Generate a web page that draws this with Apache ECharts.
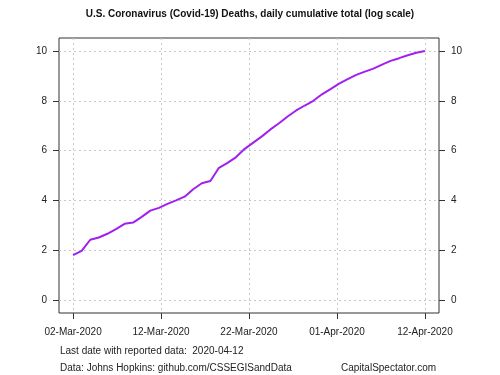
<!DOCTYPE html>
<html>
<head>
<meta charset="utf-8">
<script src="https://cdn.jsdelivr.net/npm/echarts@6/dist/echarts.min.js"></script>
<style>
  html, body { margin: 0; padding: 0; background: #fff; }
  #chart { width: 500px; height: 375px; }
</style>
</head>
<body>
<div id="chart"></div>
<script>
// daily dates, 02-Mar-2020 .. 12-Apr-2020 (x = day index)
const dates = [
  '2020-03-02', '2020-03-03', '2020-03-04', '2020-03-05', '2020-03-06', '2020-03-07',
  '2020-03-08', '2020-03-09', '2020-03-10', '2020-03-11', '2020-03-12', '2020-03-13',
  '2020-03-14', '2020-03-15', '2020-03-16', '2020-03-17', '2020-03-18', '2020-03-19',
  '2020-03-20', '2020-03-21', '2020-03-22', '2020-03-23', '2020-03-24', '2020-03-25',
  '2020-03-26', '2020-03-27', '2020-03-28', '2020-03-29', '2020-03-30', '2020-03-31',
  '2020-04-01', '2020-04-02', '2020-04-03', '2020-04-04', '2020-04-05', '2020-04-06',
  '2020-04-07', '2020-04-08', '2020-04-09', '2020-04-10', '2020-04-11', '2020-04-12'
];

// log of cumulative deaths
const logDeaths = [
  1.80, 1.97, 2.42, 2.51, 2.66, 2.85,
  3.06, 3.11, 3.34, 3.59, 3.70, 3.86,
  4.00, 4.15, 4.45, 4.69, 4.78, 5.31,
  5.51, 5.74, 6.07, 6.32, 6.57, 6.85,
  7.10, 7.37, 7.61, 7.81, 8.00, 8.26,
  8.47, 8.69, 8.87, 9.04, 9.17, 9.29,
  9.45, 9.60, 9.71, 9.83, 9.93, 10.00
];

// x axis ticks (day index) and their labels
const xTickValues = [0, 10.25, 20.5, 30.75, 41];
const xTickLabels = ['02-Mar-2020', '12-Mar-2020', '22-Mar-2020', '01-Apr-2020', '12-Apr-2020'];
const yTickValues = [0, 2, 4, 6, 8, 10];

const chart = echarts.init(document.getElementById('chart'));

const font = 'Liberation Sans, Arial, sans-serif';
const textColor = '#222';
const boxColor = '#333';
const gridColor = '#c8c8c8';

const yAxisBase = {
  type: 'value',
  min: -0.52,
  max: 10.52,
  axisLine: { show: false, onZero: false },
  axisTick: { show: true, length: 6, customValues: yTickValues, lineStyle: { color: boxColor } },
  axisLabel: {
    customValues: yTickValues,
    margin: 12,
    color: textColor,
    fontFamily: font,
    fontSize: 10
  }
};

const note = { fontFamily: font, fontSize: 10, fontWeight: 'normal', color: textColor };

const option = {
  animation: false,
  backgroundColor: '#fff',
  title: [
    {
      text: 'U.S. Coronavirus (Covid-19) Deaths, daily cumulative total (log scale)',
      left: 'center',
      top: 9,
      padding: 0,
      textStyle: { fontFamily: font, fontSize: 10, fontWeight: 'bold', color: '#111' }
    },
    { text: 'Last date with reported data:  2020-04-12', left: 60, top: 346, padding: 0, textStyle: note },
    { text: 'Data: Johns Hopkins: github.com/CSSEGISandData', left: 60, top: 363, padding: 0, textStyle: note },
    { text: 'CapitalSpectator.com', left: 341, top: 363, padding: 0, textStyle: note }
  ],
  grid: {
    left: 59,
    top: 38,
    width: 380,
    height: 275,
    show: true,
    borderColor: boxColor,
    borderWidth: 1,
    backgroundColor: 'transparent'
  },
  xAxis: {
    type: 'value',
    min: -1.64,
    max: 42.64,
    axisLine: { show: false, onZero: false },
    axisTick: { show: true, length: 6, customValues: xTickValues, lineStyle: { color: boxColor } },
    axisLabel: {
      customValues: xTickValues,
      margin: 14,
      color: textColor,
      fontFamily: font,
      fontSize: 10,
      formatter: v => {
        const k = xTickValues.findIndex(t => Math.abs(t - v) < 1e-6);
        return k >= 0 ? xTickLabels[k] : '';
      }
    },
    splitLine: { show: true, lineStyle: { color: gridColor, type: [2, 3], width: 1 } }
  },
  yAxis: [
    Object.assign({}, yAxisBase, {
      position: 'left',
      splitLine: { show: true, lineStyle: { color: gridColor, type: [2, 3], width: 1 } }
    }),
    Object.assign({}, yAxisBase, {
      position: 'right',
      splitLine: { show: false }
    })
  ],
  series: [
    {
      type: 'line',
      data: logDeaths.map((v, i) => [i, v]),
      showSymbol: false,
      lineStyle: { color: '#a020f0', width: 2 },
      yAxisIndex: 0
    }
  ]
};

chart.setOption(option);
</script>
</body>
</html>
